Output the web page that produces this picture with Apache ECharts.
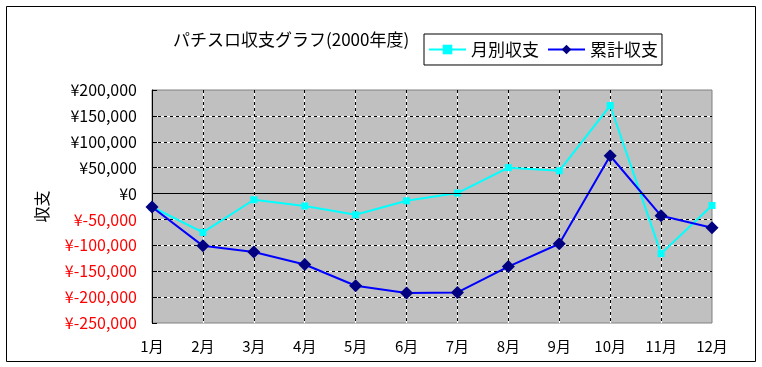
<!DOCTYPE html>
<html><head><meta charset="utf-8">
<script src="https://cdn.jsdelivr.net/npm/echarts@6/dist/echarts.min.js"></script>
<style>html,body{margin:0;padding:0;background:#fff}#c{width:762px;height:367px}</style>
</head><body><div id="c"></div>
<script>
const months = ['1月','2月','3月','4月','5月','6月','7月','8月','9月','10月','11月','12月'];
const monthly = [-26000, -75000, -12000, -24000, -41000, -14000, 1000, 50000, 44000, 170000, -116000, -23000];
const cumulative = [-26000, -101000, -113000, -137000, -178000, -192000, -191000, -141000, -97000, 73000, -43000, -66000];
const seriesNames = ['月別収支', '累計収支'];
const titleText = 'パチスロ収支グラフ(2000年度)';
const yName = '収支';

const FONT = '"Noto Sans CJK JP", "Noto Sans", sans-serif';
function yen(v) {
  const a = Math.abs(v).toString().replace(/\B(?=(\d{3})+(?!\d))/g, ',');
  return '¥' + (v < 0 ? '-' : '') + a;
}
const chart = echarts.init(document.getElementById('c'), null, {renderer: 'canvas'});
chart.setOption({
  animation: false,
  backgroundColor: '#fff',
  textStyle: {fontFamily: FONT},
  title: {
    text: titleText, left: 168, top: 26,
    textStyle: {fontFamily: FONT, fontSize: 17, fontWeight: 'normal', color: '#000'}
  },
  legend: {
    data: seriesNames, left: 424, top: 34,
    padding: [7, 4, 7, 4], itemGap: 8, itemWidth: 37, itemHeight: 12,
    borderColor: '#000', borderWidth: 1,
    textStyle: {fontFamily: FONT, fontSize: 17, color: '#000'}
  },
  graphic: [{
    type: 'rect', z: -1, silent: true,
    shape: {x: 6.5, y: 6.5, width: 749, height: 355},
    style: {fill: 'none', stroke: '#000', lineWidth: 1}
  }],
  grid: {
    left: 152, top: 90, right: 50, bottom: 44,
    show: true, backgroundColor: '#C0C0C0', borderColor: '#808080', borderWidth: 1
  },
  xAxis: [{
    type: 'category', data: months, boundaryGap: false, position: 'bottom',
    axisLine: {show: false, onZero: false}, axisTick: {show: false},
    axisLabel: {fontFamily: FONT, fontSize: 15, color: '#000', margin: 16},
    splitLine: {show: true, showMinLine: false, showMaxLine: false, lineStyle: {color: '#fff', width: 1, type: 'solid'}}
  }, {
    type: 'category', data: months, boundaryGap: false, position: 'top',
    axisLine: {show: false, onZero: false}, axisTick: {show: false}, axisLabel: {show: false},
    splitLine: {show: true, showMinLine: false, showMaxLine: false, lineStyle: {color: '#000', width: 1, type: [3, 3]}}
  }],
  yAxis: [{
    type: 'value', min: -250000, max: 200000, interval: 50000,
    name: yName, nameLocation: 'middle', nameRotate: 90, nameGap: 102,
    nameTextStyle: {fontFamily: FONT, fontSize: 16, color: '#000'},
    axisLine: {show: true, lineStyle: {color: '#000', width: 1}},
    axisTick: {show: true, inside: true, length: 5, lineStyle: {color: '#000'}},
    axisLabel: {
      fontFamily: FONT, fontSize: 16, margin: 15,
      formatter: yen,
      color: function (v) { return Number(v) < 0 ? '#FF0000' : '#000'; }
    },
    splitLine: {show: true, showMinLine: false, showMaxLine: false, lineStyle: {color: '#fff', width: 1, type: 'solid'}}
  }, {
    type: 'value', min: -250000, max: 200000, interval: 50000,
    axisLine: {show: false}, axisTick: {show: false}, axisLabel: {show: false},
    splitLine: {show: true, showMinLine: false, showMaxLine: false, lineStyle: {color: '#000', width: 1, type: [3, 3]}}
  }],
  series: [{
    name: '_zero', type: 'line', data: [], z: 1, silent: true,
    markLine: {
      silent: true, symbol: 'none', label: {show: false},
      lineStyle: {color: '#000', width: 1, type: 'solid'},
      data: [{yAxis: 0}]
    }
  }, {
    name: seriesNames[0], type: 'line', data: monthly, z: 2,
    symbol: 'rect', symbolSize: 7,
    lineStyle: {color: '#00FFFF', width: 2},
    itemStyle: {color: '#00FFFF'}
  }, {
    name: seriesNames[1], type: 'line', data: cumulative, z: 3,
    symbol: 'diamond', symbolSize: 13,
    lineStyle: {color: '#0000FF', width: 2},
    itemStyle: {color: '#000080'}
  }]
});
</script></body></html>
